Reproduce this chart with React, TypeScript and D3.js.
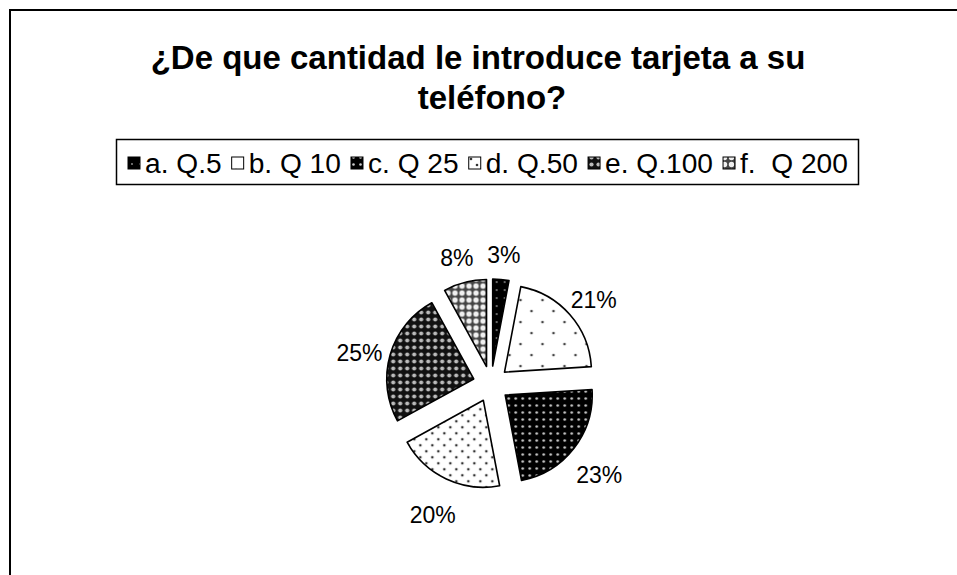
import React from "react";
import * as d3 from "d3";

const categories = ["a. Q.5", "b. Q 10", "c. Q 25", "d. Q.50", "e. Q.100", "f.  Q 200"];
const values = [3, 21, 23, 20, 25, 8];
const percentLabels = ["3%", "21%", "23%", "20%", "25%", "8%"];
const patternIds = ["pa", "pb", "pc", "pd", "pe", "pf"];
const titleLines = ["¿De que cantidad le introduce tarjeta a su", "teléfono?"];

const W = 957;
const H = 575;
const FONT = "'Liberation Sans', Arial, sans-serif";

function measure(text: string, font: string): number {
  if (typeof document === "undefined") return text.length * 10;
  const c = document.createElement("canvas");
  const ctx = c.getContext("2d");
  if (!ctx) return text.length * 10;
  ctx.font = font;
  return ctx.measureText(text).width;
}

function Patterns() {
  return (
    <defs>
      <pattern id="pa" width="8" height="8" patternUnits="userSpaceOnUse">
        <rect width="8" height="8" fill="#000" />
        <circle cx="4" cy="4" r="0.9" fill="#999" />
      </pattern>
      <pattern id="pb" width="22" height="22" patternUnits="userSpaceOnUse">
        <rect width="22" height="22" fill="#fff" />
        <circle cx="5" cy="5" r="1.3" fill="#444" />
        <circle cx="16" cy="16" r="1.3" fill="#444" />
      </pattern>
      <pattern id="pc" width="7" height="7" patternUnits="userSpaceOnUse">
        <rect width="7" height="7" fill="#000" />
        <circle cx="3.5" cy="3.5" r="1.3" fill="#ccc" />
      </pattern>
      <pattern id="pd" width="12" height="12" patternUnits="userSpaceOnUse">
        <rect width="12" height="12" fill="#fff" />
        <circle cx="3" cy="3" r="1.3" fill="#333" />
        <circle cx="9" cy="9" r="1.3" fill="#333" />
      </pattern>
      <pattern id="pe" width="7" height="7" patternUnits="userSpaceOnUse">
        <rect width="7" height="7" fill="#111" />
        <circle cx="3.5" cy="3.5" r="2.1" fill="#bbb" />
      </pattern>
      <pattern id="pf" width="7" height="7" patternUnits="userSpaceOnUse">
        <rect width="7" height="7" fill="#444" />
        <circle cx="3.5" cy="3.5" r="2.7" fill="#f0f0f0" />
      </pattern>
    </defs>
  );
}

export default function App() {
  const cx = 491;
  const cy = 384;
  const radius = 87;
  const explode = 18;
  const labelR = 137;
  const labelDy = 7;

  const pie = d3.pie<number>().sort(null).value((d) => d)(values);
  const arc = d3.arc<d3.PieArcDatum<number>>().innerRadius(0).outerRadius(radius);

  // legend layout
  const baseSize = 20;
  const legLeft = 128;
  const legRight = 848;
  const sq = 12;
  const gapSq = 5;
  const gapItem = 10;
  const textW = categories.map((c) => measure(c, `${baseSize}px 'Liberation Sans'`));
  const totalText = d3.sum(textW);
  const avail = legRight - legLeft - categories.length * (sq + gapSq) - (categories.length - 1) * gapItem;
  const legFontSize = (baseSize * avail) / totalText;
  const k = legFontSize / baseSize;
  let xCursor = legLeft;
  const legendItems = categories.map((c, i) => {
    const x = xCursor;
    xCursor += sq + gapSq + textW[i] * k + gapItem;
    return { c, x, i };
  });
  const legY = 163;

  return (
    <svg
      width={W}
      height={H}
      style={{ position: "absolute", left: 0, top: 0, background: "#fff" }}
      fontFamily={FONT}
    >
      <Patterns />
      <rect width={W} height={H} fill="#fff" />
      <line x1={9} y1={10} x2={W} y2={10} stroke="#000" strokeWidth={2} />
      <line x1={10} y1={9} x2={10} y2={H} stroke="#000" strokeWidth={2} />

      <text x={478} y={69} textAnchor="middle" fontSize={33} fontWeight="bold" fill="#000">
        {titleLines[0]}
      </text>
      <text x={492} y={109} textAnchor="middle" fontSize={33} fontWeight="bold" fill="#000">
        {titleLines[1]}
      </text>

      <rect x={116.5} y={139.5} width={742} height={45} fill="#fff" stroke="#000" strokeWidth={1.5} />
      {legendItems.map(({ c, x, i }) => (
        <g key={c}>
          <rect
            x={x}
            y={legY - sq / 2}
            width={sq}
            height={sq}
            fill={`url(#${patternIds[i]})`}
            stroke="#000"
            strokeWidth={1}
          />
          <text
            x={x + sq + gapSq}
            y={legY + legFontSize * 0.36}
            fontSize={legFontSize}
            fill="#000"
            style={{ whiteSpace: "pre" }}
          >
            {c}
          </text>
        </g>
      ))}

      <g transform={`translate(${cx},${cy})`}>
        {pie.map((d, i) => {
          const mid = (d.startAngle + d.endAngle) / 2;
          const dx = Math.sin(mid) * explode;
          const dy = -Math.cos(mid) * explode;
          return (
            <path
              key={i}
              d={arc(d) || ""}
              transform={`translate(${dx},${dy})`}
              fill={`url(#${patternIds[i]})`}
              stroke="#000"
              strokeWidth={1.6}
              strokeLinejoin="round"
            />
          );
        })}
        {pie.map((d, i) => {
          const mid = (d.startAngle + d.endAngle) / 2;
          const lx = Math.sin(mid) * labelR;
          const ly = -Math.cos(mid) * labelR + labelDy;
          return (
            <text
              key={`l${i}`}
              x={lx}
              y={ly}
              textAnchor="middle"
              dominantBaseline="central"
              fontSize={23}
              fill="#000"
            >
              {percentLabels[i]}
            </text>
          );
        })}
      </g>
    </svg>
  );
}
